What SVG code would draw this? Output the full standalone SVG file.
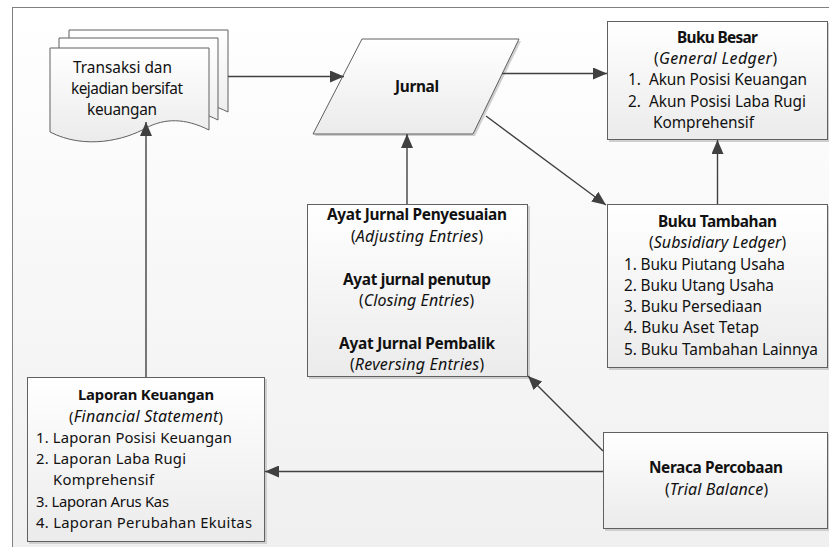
<svg xmlns="http://www.w3.org/2000/svg" width="829" height="547" viewBox="0 0 829 547">
<defs>
<linearGradient id="bg" x1="0" y1="0" x2="0" y2="1"><stop offset="0" stop-color="#ffffff"/><stop offset="1" stop-color="#efefef"/></linearGradient>
<linearGradient id="box" x1="0" y1="0" x2="0" y2="1"><stop offset="0" stop-color="#ffffff"/><stop offset="1" stop-color="#ebebeb"/></linearGradient>
<marker id="arr" markerUnits="userSpaceOnUse" markerWidth="14" markerHeight="12" viewBox="0 0 14 12" refX="14" refY="6" orient="auto"><path d="M0,0 L14,6 L0,12 Z" fill="#404040"/></marker>
<path id="doc" d="M0,0 H159 V82 C135,70 115,70 96,80 C75,92 35,102 0,84 Z"/>
</defs>
<style>
.t{font-family:"Noto Sans","Open Sans",sans-serif;font-size:15.4px;fill:#111}
.s{font-size:14.8px}
.b{font-weight:bold}
.i{font-style:italic;font-size:16px}
.bx{fill:url(#box);stroke:#606060;stroke-width:1}
.sh{fill:#cfcfcf}
.ln{fill:none;stroke:#404040;stroke-width:1.4;marker-end:url(#arr)}
</style>
<rect x="12.5" y="7.5" width="830" height="560" fill="url(#bg)" stroke="#808080" stroke-width="1"/>

<g id="transaksi">
<use href="#doc" x="69" y="30" class="bx"/>
<use href="#doc" x="59" y="38" class="bx"/>
<use href="#doc" x="50" y="48" class="bx"/>
<text class="t" x="73" y="73" textLength="99" lengthAdjust="spacing">Transaksi dan</text>
<text class="t" x="71" y="94" textLength="112" lengthAdjust="spacing">kejadian bersifat</text>
<text class="t" x="87" y="115" textLength="70" lengthAdjust="spacing">keuangan</text>
</g>

<g id="jurnal">
<polygon points="365,41 521,41 475,136 315,136" class="sh"/>
<polygon points="362,39 519,39 473,134 313,134" class="bx"/>
<text class="t b" x="395" y="92" textLength="44" lengthAdjust="spacing">Jurnal</text>
</g>

<g id="buku-besar">
<rect x="609" y="23" width="221" height="119" class="sh"/>
<rect x="607.5" y="21.5" width="220" height="118" class="bx"/>
<text class="t b" x="677" y="43" textLength="81" lengthAdjust="spacing">Buku Besar</text>
<text class="t" x="654" y="64" textLength="123" lengthAdjust="spacing">(<tspan class="i">General Ledger</tspan>)</text>
<text class="t" x="628" y="85">1.</text>
<text class="t" x="649" y="85" textLength="158" lengthAdjust="spacing">Akun Posisi Keuangan</text>
<text class="t" x="628" y="107">2.</text>
<text class="t" x="649" y="107" textLength="157" lengthAdjust="spacing">Akun Posisi Laba Rugi</text>
<text class="t" x="653" y="128" textLength="101" lengthAdjust="spacing">Komprehensif</text>
</g>

<g id="buku-tambahan">
<rect x="609" y="206" width="221" height="164" class="sh"/>
<rect x="607.5" y="204.5" width="220" height="163" class="bx"/>
<text class="t b" x="658" y="227" textLength="119" lengthAdjust="spacing">Buku Tambahan</text>
<text class="t" x="649" y="248" textLength="137" lengthAdjust="spacing">(<tspan class="i">Subsidiary Ledger</tspan>)</text>
<text class="t" x="624" y="270" textLength="161" lengthAdjust="spacing">1. Buku Piutang Usaha</text>
<text class="t" x="624" y="291" textLength="150" lengthAdjust="spacing">2. Buku Utang Usaha</text>
<text class="t" x="624" y="312" textLength="138" lengthAdjust="spacing">3. Buku Persediaan</text>
<text class="t" x="624" y="333" textLength="135" lengthAdjust="spacing">4. Buku Aset Tetap</text>
<text class="t" x="624" y="355" textLength="194" lengthAdjust="spacing">5. Buku Tambahan Lainnya</text>
</g>

<g id="ayat-jurnal">
<rect x="309" y="206" width="221" height="173" class="sh"/>
<rect x="307.5" y="204.5" width="220" height="172" class="bx"/>
<text class="t b" x="327" y="220" textLength="180" lengthAdjust="spacing">Ayat Jurnal Penyesuaian</text>
<text class="t" x="351" y="242" textLength="132" lengthAdjust="spacing">(<tspan class="i">Adjusting Entries</tspan>)</text>
<text class="t b" x="343" y="285" textLength="148" lengthAdjust="spacing">Ayat jurnal penutup</text>
<text class="t" x="359" y="306" textLength="115" lengthAdjust="spacing">(<tspan class="i">Closing Entries</tspan>)</text>
<text class="t b" x="339" y="349" textLength="156" lengthAdjust="spacing">Ayat Jurnal Pembalik</text>
<text class="t" x="350" y="370" textLength="134" lengthAdjust="spacing">(<tspan class="i">Reversing Entries</tspan>)</text>
</g>

<g id="neraca">
<rect x="605" y="434" width="225" height="97" class="sh"/>
<rect x="603.5" y="432.5" width="224" height="96" class="bx"/>
<text class="t b" x="649" y="473" textLength="134" lengthAdjust="spacing">Neraca Percobaan</text>
<text class="t" x="665" y="495" textLength="103" lengthAdjust="spacing">(<tspan class="i">Trial Balance</tspan>)</text>
</g>

<g id="laporan">
<rect x="29" y="379" width="238" height="165" class="sh"/>
<rect x="27.5" y="377.5" width="237" height="164" class="bx"/>
<text class="t s b" x="78" y="400" textLength="136" lengthAdjust="spacing">Laporan Keuangan</text>
<text class="t s" x="69" y="422" textLength="154" lengthAdjust="spacing">(<tspan class="i">Financial Statement</tspan>)</text>
<text class="t s" x="36" y="443" textLength="196" lengthAdjust="spacing">1. Laporan Posisi Keuangan</text>
<text class="t s" x="36" y="464" textLength="150" lengthAdjust="spacing">2. Laporan Laba Rugi</text>
<text class="t s" x="53" y="485" textLength="101" lengthAdjust="spacing">Komprehensif</text>
<text class="t s" x="36" y="507" textLength="133" lengthAdjust="spacing">3. Laporan Arus Kas</text>
<text class="t s" x="36" y="528" textLength="216" lengthAdjust="spacing">4. Laporan Perubahan Ekuitas</text>
</g>

<g id="connectors">
<path class="ln" d="M228,76.5 H344"/>
<path class="ln" d="M502,73.5 H607"/>
<path class="ln" d="M486,116 L606,205"/>
<path class="ln" d="M407,204 V134"/>
<path class="ln" d="M717.5,204 V140"/>
<path class="ln" d="M603,451 L528,376"/>
<path class="ln" d="M603,471.5 H265"/>
<path class="ln" d="M146,377 V122"/>
</g>
</svg>
